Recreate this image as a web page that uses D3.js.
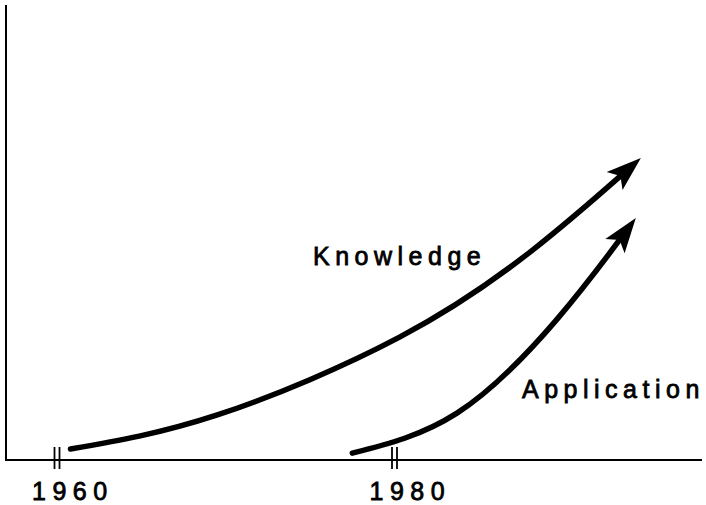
<!DOCTYPE html>
<html>
<head>
<meta charset="utf-8">
<script src="https://cdn.jsdelivr.net/npm/d3@7"></script>
<style>
    html, body { margin: 0; padding: 0; background: #fff; }
    svg { display: block; }
    .label { font-family: "Liberation Sans", Arial, sans-serif; font-size: 25px; fill: #000; stroke: #000; stroke-width: 0.8px; letter-spacing: 5.5px; }
    .tick-label { letter-spacing: 6.5px; }
</style>
</head>
<body>
<div id="chart"></div>
<script>
// Data (years vs. relative level, 0-100)
const knowledgeYears = [1960.8, 1969.5, 1980.3, 1988.2, 1994.6];
const knowledgeValues = [2.4, 9.9, 27.0, 46.2, 66.4];
const applicationYears = [1977.5, 1983.7, 1989.6, 1994.3];
const applicationValues = [1.5, 10.3, 30.8, 53.2];
const tickYears = [1960, 1980];
const tickLabels = ['1960', '1980'];
const seriesLabels = ['Knowledge', 'Application'];

const width = 706;
const height = 505;

const svg = d3.select('#chart')
    .append('svg')
    .attr('width', width)
    .attr('height', height);

// Scales: the axis corner sits at (6, 460)
const x = d3.scaleLinear().domain([1960, 1980]).range([57, 394.5]);
const y = d3.scaleLinear().domain([0, 100]).range([460, 5]);

// Axes (plain lines, no arrow heads)
svg.append('line')
    .attr('x1', 6).attr('x2', 6)
    .attr('y1', y(100)).attr('y2', y(0) + 1)
    .attr('stroke', '#000').attr('stroke-width', 2);

svg.append('line')
    .attr('x1', 5).attr('x2', 702)
    .attr('y1', y(0)).attr('y2', y(0))
    .attr('stroke', '#000').attr('stroke-width', 2);

// Double-bar ticks
tickYears.forEach((yr, i) => {
    [-2.5, 2.5].forEach(off => {
        svg.append('line')
            .attr('x1', x(yr) + off).attr('x2', x(yr) + off)
            .attr('y1', 447).attr('y2', 469)
            .attr('stroke', '#000').attr('stroke-width', 1.8);
    });
    svg.append('text')
        .attr('class', 'label tick-label')
        .attr('x', x(yr) - 25)
        .attr('y', 500)
        .text(tickLabels[i]);
});

const line = d3.line()
    .x(d => x(d[0]))
    .y(d => y(d[1]))
    .curve(d3.curveNatural);

/**
 * Draw a thick curve ending in a notched arrow head
 */
function drawArrowCurve(years, values) {
    const pts = years.map((yr, i) => [yr, values[i]]);
    const path = svg.append('path')
        .attr('d', line(pts))
        .attr('fill', 'none')
        .attr('stroke', '#000')
        .attr('stroke-width', 5.5)
        .attr('stroke-linecap', 'round');

    const node = path.node();
    const total = node.getTotalLength();
    const headLen = 35;
    const halfW = 12;

    // Hide the part of the stroke covered by the head
    path.attr('stroke-dasharray', `${total - headLen * 0.7} ${total}`);

    const tip = node.getPointAtLength(total);
    const back = node.getPointAtLength(total - headLen);
    const dx = tip.x - back.x;
    const dy = tip.y - back.y;
    const len = Math.hypot(dx, dy);
    const ux = dx / len, uy = dy / len;
    const px = -uy, py = ux;

    const baseX = tip.x - ux * headLen;
    const baseY = tip.y - uy * headLen;
    const notchX = tip.x - ux * headLen * 0.78;
    const notchY = tip.y - uy * headLen * 0.78;

    const head = [
        [tip.x, tip.y],
        [baseX + px * halfW, baseY + py * halfW],
        [notchX, notchY],
        [baseX - px * halfW, baseY - py * halfW]
    ];

    svg.append('path')
        .attr('d', 'M' + head.map(p => p.join(',')).join('L') + 'Z')
        .attr('fill', '#000');
}

drawArrowCurve(knowledgeYears, knowledgeValues);
drawArrowCurve(applicationYears, applicationValues);

// Series labels
svg.append('text')
    .attr('class', 'label')
    .attr('x', 313)
    .attr('y', 265)
    .text(seriesLabels[0]);

svg.append('text')
    .attr('class', 'label')
    .attr('x', 522)
    .attr('y', 398)
    .text(seriesLabels[1]);
</script>
</body>
</html>
